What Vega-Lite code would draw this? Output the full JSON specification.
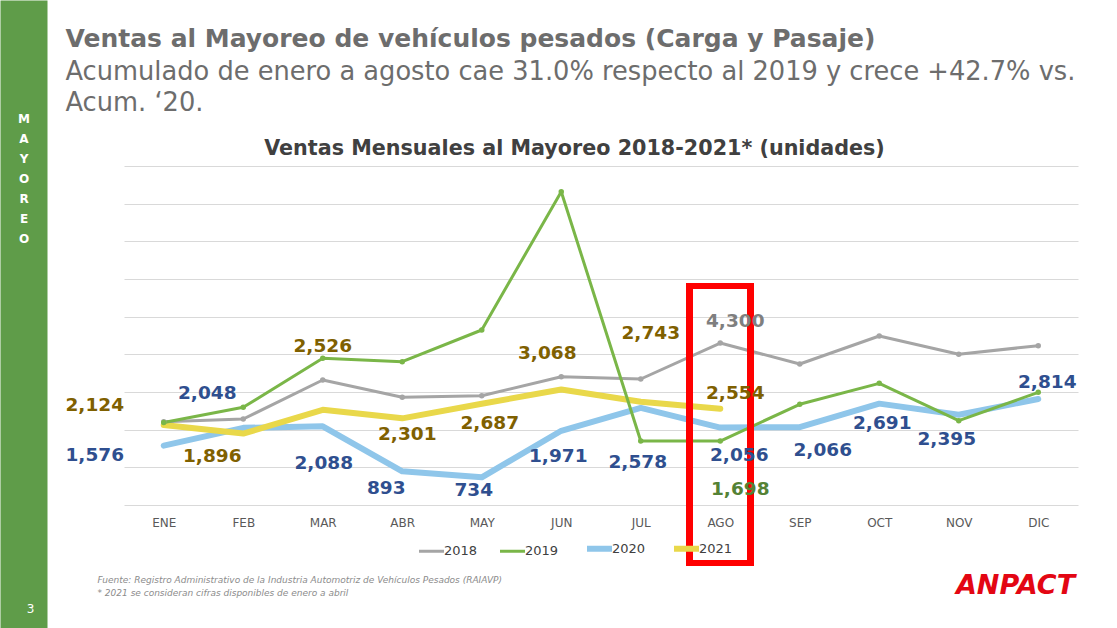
{
  "$schema": "https://vega.github.io/schema/vega-lite/v6.json",
  "width": 954,
  "height": 339,
  "autosize": {"type": "none"},
  "padding": {"left": 124, "top": 166, "right": 39, "bottom": 123},
  "background": "white",
  "config": {"view": {"stroke": null}, "font": "DejaVu Sans"},
  "data": {"values": [
    {"mes": "ENE", "anio": "2018", "ventas": 2211}, {"mes": "FEB", "anio": "2018", "ventas": 2283}, {"mes": "MAR", "anio": "2018", "ventas": 3318}, {"mes": "ABR", "anio": "2018", "ventas": 2859}, {"mes": "MAY", "anio": "2018", "ventas": 2902}, {"mes": "JUN", "anio": "2018", "ventas": 3406}, {"mes": "JUL", "anio": "2018", "ventas": 3345}, {"mes": "AGO", "anio": "2018", "ventas": 4300}, {"mes": "SEP", "anio": "2018", "ventas": 3743}, {"mes": "OCT", "anio": "2018", "ventas": 4487}, {"mes": "NOV", "anio": "2018", "ventas": 4000}, {"mes": "DIC", "anio": "2018", "ventas": 4230},
    {"mes": "ENE", "anio": "2019", "ventas": 2190}, {"mes": "FEB", "anio": "2019", "ventas": 2593}, {"mes": "MAR", "anio": "2019", "ventas": 3894}, {"mes": "ABR", "anio": "2019", "ventas": 3805}, {"mes": "MAY", "anio": "2019", "ventas": 4646}, {"mes": "JUN", "anio": "2019", "ventas": 8318}, {"mes": "JUL", "anio": "2019", "ventas": 1699}, {"mes": "AGO", "anio": "2019", "ventas": 1698}, {"mes": "SEP", "anio": "2019", "ventas": 2673}, {"mes": "OCT", "anio": "2019", "ventas": 3230}, {"mes": "NOV", "anio": "2019", "ventas": 2239}, {"mes": "DIC", "anio": "2019", "ventas": 2991},
    {"mes": "ENE", "anio": "2020", "ventas": 1576}, {"mes": "FEB", "anio": "2020", "ventas": 2048}, {"mes": "MAR", "anio": "2020", "ventas": 2088}, {"mes": "ABR", "anio": "2020", "ventas": 893}, {"mes": "MAY", "anio": "2020", "ventas": 734}, {"mes": "JUN", "anio": "2020", "ventas": 1971}, {"mes": "JUL", "anio": "2020", "ventas": 2578}, {"mes": "AGO", "anio": "2020", "ventas": 2056}, {"mes": "SEP", "anio": "2020", "ventas": 2066}, {"mes": "OCT", "anio": "2020", "ventas": 2691}, {"mes": "NOV", "anio": "2020", "ventas": 2395}, {"mes": "DIC", "anio": "2020", "ventas": 2814},
    {"mes": "ENE", "anio": "2021", "ventas": 2124}, {"mes": "FEB", "anio": "2021", "ventas": 1896}, {"mes": "MAR", "anio": "2021", "ventas": 2526}, {"mes": "ABR", "anio": "2021", "ventas": 2301}, {"mes": "MAY", "anio": "2021", "ventas": 2687}, {"mes": "JUN", "anio": "2021", "ventas": 3068}, {"mes": "JUL", "anio": "2021", "ventas": 2743}, {"mes": "AGO", "anio": "2021", "ventas": 2554}
  ]},
  "layer": [
    {
      "encoding": {
        "x": {"field": "mes", "type": "ordinal", "sort": null,
          "scale": {"type": "point", "padding": 0.5, "domain": ["ENE", "FEB", "MAR", "ABR", "MAY", "JUN", "JUL", "AGO", "SEP", "OCT", "NOV", "DIC"]},
          "axis": {"orient": "bottom", "labelAngle": 0, "labelFontSize": 12, "labelColor": "#595959", "labelPadding": 12, "ticks": false, "domain": false, "grid": false,
            "title": ["Fuente: Registro Administrativo de la Industria Automotriz de Vehículos Pesados (RAIAVP)", "* 2021 se consideran cifras disponibles de enero a abril"],
            "titleX": -27, "titleY": 77, "titleAlign": "left", "titleAnchor": "start", "titleBaseline": "alphabetic", "titleFontSize": 9, "titleFontStyle": "italic", "titleFontWeight": "normal", "titleColor": "#8c8c8c", "titleLineHeight": 13}},
        "y": {"field": "ventas", "type": "quantitative",
          "scale": {"domain": [0, 9000], "nice": false, "zero": false},
          "axis": {"orient": "left", "values": [0, 1000, 2000, 3000, 4000, 5000, 6000, 7000, 8000, 9000], "grid": true, "gridColor": "#d9d9d9", "gridWidth": 1, "labels": false, "ticks": false, "domain": false, "title": null}},
        "color": {"field": "anio", "type": "nominal", "scale": {"domain": ["2018", "2019", "2020", "2021"], "range": ["#A5A5A5", "#7AB648", "#8FC6EA", "#E9D84A"]},
          "legend": {"orient": "none", "legendX": 301, "legendY": 376, "direction": "horizontal", "title": null, "symbolType": "stroke", "symbolSize": 625, "symbolStrokeWidth": 3, "labelFontSize": 13, "labelColor": "#404040", "columnPadding": 16, "labelOffset": 6, "labelBaseline": "middle",
            "encode": {"symbols": {"update": {"strokeWidth": {"signal": "datum.value == '2020' || datum.value == '2021' ? 6 : 3"}}}}}}
      },
      "layer": [
        {
          "transform": [{"filter": "datum.anio == '2020' || datum.anio == '2021'"}],
          "mark": {"type": "line", "strokeWidth": 6, "strokeCap": "round", "strokeJoin": "round"}
        },
        {
          "transform": [{"filter": "datum.anio == '2018' || datum.anio == '2019'"}],
          "mark": {"type": "line", "strokeWidth": 3, "point": {"size": 30, "filled": true}, "strokeCap": "round", "strokeJoin": "round"}
        },
        {
          "mark": {"type": "point", "shape": "M-1,-4.54L1,-4.54L1,4.54L-1,4.54Z", "size": 3721, "filled": false, "stroke": "#FF0000", "strokeWidth": 6, "opacity": 1},
          "encoding": {"x": {"datum": "AGO"}, "y": {"datum": 2137}, "color": {"value": "#FF0000"}}
        },
        {"transform": [{"filter": "datum.anio == '2021' && datum.mes == 'ENE'"}], "mark": {"type": "text", "dx": -69, "dy": -20, "fontSize": 18.5, "fontWeight": "bold"}, "encoding": {"text": {"field": "ventas", "format": ","}, "color": {"value": "#7F6000"}}},
        {"transform": [{"filter": "datum.anio == '2021' && datum.mes == 'FEB'"}], "mark": {"type": "text", "dx": -31, "dy": 22, "fontSize": 18.5, "fontWeight": "bold"}, "encoding": {"text": {"field": "ventas", "format": ","}, "color": {"value": "#7F6000"}}},
        {"transform": [{"filter": "datum.anio == '2021' && datum.mes == 'MAR'"}], "mark": {"type": "text", "dx": 0, "dy": -64, "fontSize": 18.5, "fontWeight": "bold"}, "encoding": {"text": {"field": "ventas", "format": ","}, "color": {"value": "#7F6000"}}},
        {"transform": [{"filter": "datum.anio == '2021' && datum.mes == 'ABR'"}], "mark": {"type": "text", "dx": 5, "dy": 16, "fontSize": 18.5, "fontWeight": "bold"}, "encoding": {"text": {"field": "ventas", "format": ","}, "color": {"value": "#7F6000"}}},
        {"transform": [{"filter": "datum.anio == '2021' && datum.mes == 'MAY'"}], "mark": {"type": "text", "dx": 8, "dy": 19, "fontSize": 18.5, "fontWeight": "bold"}, "encoding": {"text": {"field": "ventas", "format": ","}, "color": {"value": "#7F6000"}}},
        {"transform": [{"filter": "datum.anio == '2021' && datum.mes == 'JUN'"}], "mark": {"type": "text", "dx": -14, "dy": -36, "fontSize": 18.5, "fontWeight": "bold"}, "encoding": {"text": {"field": "ventas", "format": ","}, "color": {"value": "#7F6000"}}},
        {"transform": [{"filter": "datum.anio == '2021' && datum.mes == 'JUL'"}], "mark": {"type": "text", "dx": 10, "dy": -69, "fontSize": 18.5, "fontWeight": "bold"}, "encoding": {"text": {"field": "ventas", "format": ","}, "color": {"value": "#7F6000"}}},
        {"transform": [{"filter": "datum.anio == '2021' && datum.mes == 'AGO'"}], "mark": {"type": "text", "dx": 15, "dy": -16, "fontSize": 18.5, "fontWeight": "bold"}, "encoding": {"text": {"field": "ventas", "format": ","}, "color": {"value": "#7F6000"}}},
        {"transform": [{"filter": "datum.anio == '2020' && datum.mes == 'ENE'"}], "mark": {"type": "text", "dx": -69, "dy": 9, "fontSize": 18.5, "fontWeight": "bold"}, "encoding": {"text": {"field": "ventas", "format": ","}, "color": {"value": "#2F4F8F"}}},
        {"transform": [{"filter": "datum.anio == '2020' && datum.mes == 'FEB'"}], "mark": {"type": "text", "dx": -36, "dy": -35, "fontSize": 18.5, "fontWeight": "bold"}, "encoding": {"text": {"field": "ventas", "format": ","}, "color": {"value": "#2F4F8F"}}},
        {"transform": [{"filter": "datum.anio == '2020' && datum.mes == 'MAR'"}], "mark": {"type": "text", "dx": 1, "dy": 37, "fontSize": 18.5, "fontWeight": "bold"}, "encoding": {"text": {"field": "ventas", "format": ","}, "color": {"value": "#2F4F8F"}}},
        {"transform": [{"filter": "datum.anio == '2020' && datum.mes == 'ABR'"}], "mark": {"type": "text", "dx": -16, "dy": 17, "fontSize": 18.5, "fontWeight": "bold"}, "encoding": {"text": {"field": "ventas", "format": ","}, "color": {"value": "#2F4F8F"}}},
        {"transform": [{"filter": "datum.anio == '2020' && datum.mes == 'MAY'"}], "mark": {"type": "text", "dx": -8, "dy": 13, "fontSize": 18.5, "fontWeight": "bold"}, "encoding": {"text": {"field": "ventas", "format": ","}, "color": {"value": "#2F4F8F"}}},
        {"transform": [{"filter": "datum.anio == '2020' && datum.mes == 'JUN'"}], "mark": {"type": "text", "dx": -3, "dy": 25, "fontSize": 18.5, "fontWeight": "bold"}, "encoding": {"text": {"field": "ventas", "format": ","}, "color": {"value": "#2F4F8F"}}},
        {"transform": [{"filter": "datum.anio == '2020' && datum.mes == 'JUL'"}], "mark": {"type": "text", "dx": -3, "dy": 54, "fontSize": 18.5, "fontWeight": "bold"}, "encoding": {"text": {"field": "ventas", "format": ","}, "color": {"value": "#2F4F8F"}}},
        {"transform": [{"filter": "datum.anio == '2020' && datum.mes == 'AGO'"}], "mark": {"type": "text", "dx": 19, "dy": 27, "fontSize": 18.5, "fontWeight": "bold"}, "encoding": {"text": {"field": "ventas", "format": ","}, "color": {"value": "#2F4F8F"}}},
        {"transform": [{"filter": "datum.anio == '2020' && datum.mes == 'SEP'"}], "mark": {"type": "text", "dx": 23, "dy": 23, "fontSize": 18.5, "fontWeight": "bold"}, "encoding": {"text": {"field": "ventas", "format": ","}, "color": {"value": "#2F4F8F"}}},
        {"transform": [{"filter": "datum.anio == '2020' && datum.mes == 'OCT'"}], "mark": {"type": "text", "dx": 3, "dy": 19, "fontSize": 18.5, "fontWeight": "bold"}, "encoding": {"text": {"field": "ventas", "format": ","}, "color": {"value": "#2F4F8F"}}},
        {"transform": [{"filter": "datum.anio == '2020' && datum.mes == 'NOV'"}], "mark": {"type": "text", "dx": -12, "dy": 24, "fontSize": 18.5, "fontWeight": "bold"}, "encoding": {"text": {"field": "ventas", "format": ","}, "color": {"value": "#2F4F8F"}}},
        {"transform": [{"filter": "datum.anio == '2020' && datum.mes == 'DIC'"}], "mark": {"type": "text", "dx": 9, "dy": -17, "fontSize": 18.5, "fontWeight": "bold"}, "encoding": {"text": {"field": "ventas", "format": ","}, "color": {"value": "#2F4F8F"}}},
        {"transform": [{"filter": "datum.anio == '2018' && datum.mes == 'AGO'"}], "mark": {"type": "text", "dx": 15, "dy": -22, "fontSize": 18.5, "fontWeight": "bold"}, "encoding": {"text": {"field": "ventas", "format": ","}, "color": {"value": "#7F7F7F"}}},
        {"transform": [{"filter": "datum.anio == '2019' && datum.mes == 'AGO'"}], "mark": {"type": "text", "dx": 20, "dy": 48, "fontSize": 18.5, "fontWeight": "bold"}, "encoding": {"text": {"field": "ventas", "format": ","}, "color": {"value": "#548235"}}}
      ]
    },
    {
      "transform": [{"filter": "datum.anio == '2018' && datum.mes == 'ENE'"}],
      "mark": {"type": "point", "opacity": 0},
      "encoding": {
        "x": {"field": "mes", "type": "ordinal", "sort": null,
          "axis": {"orient": "top", "labels": false, "ticks": false, "domain": false, "grid": false,
            "title": "Ventas Mensuales al Mayoreo 2018-2021* (unidades)", "titleX": 450, "titleY": -12, "titleAlign": "center", "titleAnchor": null, "titleBaseline": "alphabetic", "titleFontSize": 20.7, "titleFontWeight": "bold", "titleColor": "#404040"}},
        "y": {"field": "ventas", "type": "quantitative",
          "axis": {"orient": "left", "offset": 77, "values": [5070.8], "grid": false, "domain": false, "ticks": true, "tickSize": 47, "tickWidth": 628, "tickColor": "#5F9C49", "tickCap": "butt", "tickOpacity": 1,
            "labels": true, "labelExpr": "['M','A','Y','O','R','E','O']", "labelAlign": "center", "labelBaseline": "alphabetic", "labelPadding": -23.5, "labelOffset": -191.5, "labelFontSize": 12, "labelFontWeight": "bold", "labelColor": "#ffffff", "labelLineHeight": 20, "labelBound": false, "labelOverlap": false, "labelFlush": false,
            "title": "3", "titleX": -17, "titleY": 446, "titleAngle": 0, "titleAlign": "center", "titleBaseline": "alphabetic", "titleFontSize": 12, "titleFontWeight": "normal", "titleColor": "#ffffff"}}
      }
    },
    {
      "transform": [{"filter": "datum.anio == '2018' && datum.mes == 'ENE'"}],
      "mark": {"type": "point", "opacity": 0},
      "encoding": {
        "x": {"field": "mes", "type": "ordinal", "sort": null,
          "axis": {"orient": "top", "labels": false, "ticks": false, "domain": false, "grid": false,
            "title": "Ventas al Mayoreo de vehículos pesados (Carga y Pasaje)", "titleX": -59, "titleY": -120, "titleAlign": "left", "titleAnchor": null, "titleBaseline": "alphabetic", "titleFontSize": 25, "titleFontWeight": "bold", "titleColor": "#6d6d6d"}},
        "y": {"field": "ventas", "type": "quantitative",
          "axis": {"orient": "left", "offset": -951, "grid": false, "domain": false, "ticks": false, "labels": false,
            "title": "ANPACT", "titleX": -60, "titleY": 427, "titleAngle": 0, "titleAlign": "center", "titleBaseline": "alphabetic", "titleFontSize": 27, "titleFontWeight": 900, "titleFontStyle": "italic", "titleColor": "#E30613"}}
      }
    },
    {
      "transform": [{"filter": "datum.anio == '2018' && datum.mes == 'ENE'"}],
      "mark": {"type": "point", "opacity": 0},
      "encoding": {
        "x": {"field": "mes", "type": "ordinal", "sort": null,
          "axis": {"orient": "top", "labels": false, "ticks": false, "domain": false, "grid": false,
            "title": ["Acumulado de enero a agosto cae 31.0% respecto al 2019 y crece +42.7% vs.", "Acum. ‘20."], "titleX": -59, "titleY": -87, "titleAlign": "left", "titleAnchor": null, "titleBaseline": "alphabetic", "titleFontSize": 25.7, "titleFontWeight": "normal", "titleColor": "#6d6d6d", "titleLineHeight": 31}},
        "y": {"field": "ventas", "type": "quantitative", "axis": null}
      }
    }
  ],
  "resolve": {"axis": {"x": "independent", "y": "independent"}}
}
